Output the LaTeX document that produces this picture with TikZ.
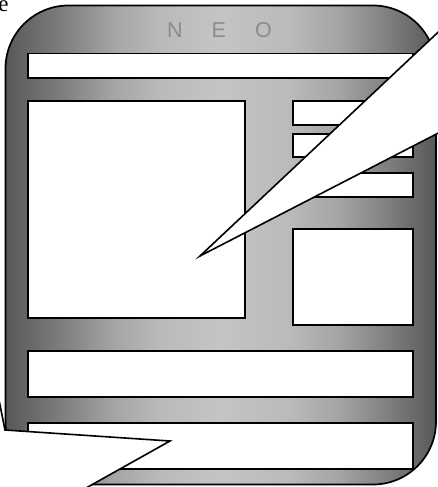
\documentclass[tikz,border=0pt]{standalone}
\usepackage{fontspec}
\setmainfont{Liberation Serif}
\newfontfamily\neofont{Liberation Sans}
\definecolor{ga}{gray}{0.345}
\definecolor{gb}{gray}{0.49}
\definecolor{gc}{gray}{0.64}
\definecolor{gd}{gray}{0.73}
\definecolor{ge}{gray}{0.77}
\definecolor{neotext}{gray}{0.55}
\pgfdeclarehorizontalshading{neoshade}{100bp}{color(0bp)=(ga); color(25bp)=(ga); color(31.4bp)=(gb); color(37.2bp)=(gc); color(43bp)=(gd); color(50bp)=(ge); color(58bp)=(gd); color(63.9bp)=(gc); color(69.7bp)=(gb); color(75bp)=(ga); color(100bp)=(ga)}
\tikzset{
  outline/.style={draw=black, line width=1.7pt, line join=miter},
  panel/.style={outline, fill=white},
  callout/.style={draw=black, line width=1.6pt, fill=white, line join=miter}
}
\begin{document}
\begin{tikzpicture}[x=1pt,y=-1pt]
\useasboundingbox (0,0) rectangle (438,487);
\clip (0,0) rectangle (438,487);
% frame
\path[shading=neoshade, outline, rounded corners=63pt] (5.5,5.5) rectangle (436,484.5);
% title
\node[font=\neofont\fontsize{21.5}{24}\selectfont, text=neotext, inner sep=0pt] (title) at (219.5,30.5) {N\hspace{29pt}E\hspace{29pt}O};
% bars and panels
\draw[panel] (28,53.5) rectangle (413,78);
\draw[panel] (28,101) rectangle (245,318);
\draw[panel] (293,101) rectangle (413,125);
\draw[panel] (293,134) rectangle (413,157);
\draw[panel] (293,173) rectangle (413,197);
\draw[panel] (293,229) rectangle (413,325);
\draw[panel] (28,351) rectangle (413,397);
\draw[panel] (28,423) rectangle (413,469);
% callouts
\coordinate (tip1) at (200,256);
\coordinate (c1a) at (450,21);
\coordinate (c1b) at (450,127);
\draw[callout] (tip1) -- (c1a) -- (c1b) -- cycle;
\coordinate (c2a) at (-2,395);
\coordinate (c2b) at (5,430);
\coordinate (tip2) at (170,441);
\coordinate (c2c) at (70,497);
\draw[callout] (c2a) -- (c2b) -- (tip2) -- (c2c) -- (-10,497) -- (-10,395) -- cycle;
% cut-off text
\node[font=\fontsize{23}{26}\selectfont, anchor=base east, inner sep=0pt] (cut) at (8.8,12) {e};
\end{tikzpicture}
\end{document}
